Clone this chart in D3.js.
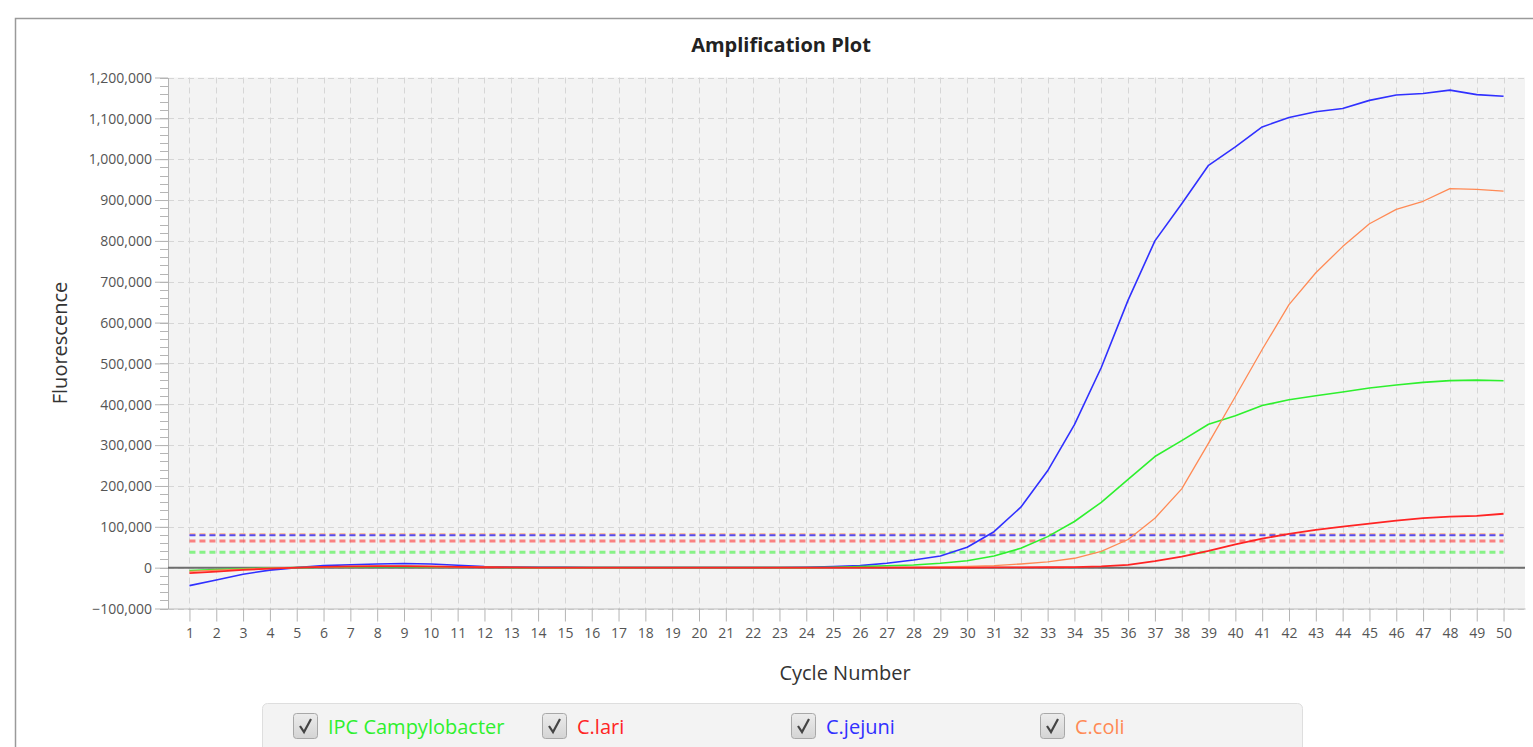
<!DOCTYPE html>
<html>
<head>
<meta charset="utf-8">
<script src="https://cdn.jsdelivr.net/npm/d3@7"></script>
<style>
  body { margin: 0; background: #fff; }
  svg { display: block; font-family: "Open Sans", "Noto Sans", sans-serif; }
</style>
</head>
<body>
<div id="chart"></div>
<script>
// cycle numbers on the x axis
const cycles = d3.range(1, 51);

const seriesNames = ["IPC Campylobacter", "C.lari", "C.jejuni", "C.coli"];
const seriesColors = ["#2ef02e", "#ff2424", "#3030ff", "#ff8a55"];

// fluorescence per cycle
const ipcValues = [-7000, -4500, -2500, -1000, 0, 1000, 2000, 2500, 2500, 2000,
  1500, 1000, 500, 0, 0, 0, 0, 0, 0, 0,
  0, 0, 0, 0, 1000, 2500, 4500, 6600, 10700, 17000,
  28700, 47500, 76000, 113000, 160000, 216000, 272000, 311000, 351000, 372000,
  397000, 411000, 421000, 430000, 440000, 447000, 453500, 458000, 459000, 457500];

const lariValues = [-13500, -9500, -5500, -2500, 0, 2000, 3000, 3500, 3500, 3000,
  2000, 1000, 500, 0, 0, 0, 0, 0, 0, 0,
  0, 0, 0, 0, 0, 0, 0, 0, 0, 0,
  500, 500, 1000, 1500, 3000, 7000, 16000, 27000, 41000, 57000,
  71000, 82500, 92500, 100500, 108000, 115000, 121500, 125000, 127000, 132000];

const jejuniValues = [-44000, -30000, -16000, -6000, 0, 5000, 7000, 9000, 10000, 9000,
  6000, 3000, 1500, 1000, 1000, 500, 500, 0, 0, 0,
  0, 0, 500, 1000, 2500, 5000, 10800, 18900, 28700, 50000,
  88000, 148000, 237000, 350000, 490000, 655000, 800000, 891000, 985000, 1030000,
  1079000, 1102000, 1116000, 1124000, 1144000, 1157000, 1161000, 1169000, 1158000, 1154000];

const coliValues = [-9000, -6000, -3500, -1500, 0, 1500, 2500, 3000, 3000, 2500,
  1500, 1000, 500, 0, 0, 0, 0, 0, 0, 0,
  0, 0, 0, 0, 0, 0, 500, 1000, 2000, 3000,
  5000, 9000, 14000, 23000, 40000, 69000, 121000, 193000, 305000, 419000,
  534000, 644000, 722000, 786000, 842000, 877000, 897000, 928000, 926000, 922000];

// threshold per series (dashed lines)
const thresholds = [37500, 65000, 79500, 81000];

const yTicks = d3.range(-100000, 1200001, 100000);
const yMinorTicks = d3.range(-100000, 1200001, 20000);

const W = 1533, H = 747;
const svg = d3.select("#chart").append("svg")
  .attr("width", W).attr("height", H);

// panel frame
svg.append("path")
  .attr("d", "M15.5," + H + "V18.5H" + W)
  .attr("fill", "none")
  .attr("stroke", "#9a9a9a")
  .attr("stroke-width", 1.5);

const x = d3.scaleLinear().domain([0.2, 50.8]).range([168, 1525]);
const y = d3.scaleLinear().domain([-100000, 1200000]).range([608.5, 77.5]);

// plot background
svg.append("rect")
  .attr("x", x.range()[0]).attr("y", y(1200000))
  .attr("width", x.range()[1] - x.range()[0])
  .attr("height", y(-100000) - y(1200000))
  .attr("fill", "#f3f3f3");

// grid
const grid = svg.append("g")
  .attr("stroke", "#d6d6d6")
  .attr("stroke-width", 1)
  .attr("stroke-dasharray", "6,4");
grid.selectAll(".vg").data(cycles).enter().append("line")
  .attr("x1", d => Math.round(x(d)) + 0.5).attr("x2", d => Math.round(x(d)) + 0.5)
  .attr("y1", y(1200000)).attr("y2", y(-100000));
grid.selectAll(".hg").data(yTicks).enter().append("line")
  .attr("x1", x.range()[0]).attr("x2", x.range()[1])
  .attr("y1", d => Math.round(y(d)) + 0.5).attr("y2", d => Math.round(y(d)) + 0.5);

// y axis
const yAxis = svg.append("g")
  .attr("transform", "translate(" + x.range()[0] + ",0)")
  .call(d3.axisLeft(y).tickValues(yTicks).tickSize(13).tickSizeOuter(0).tickPadding(3)
    .tickFormat(d3.format(",")));
yAxis.append("g").selectAll("line").data(yMinorTicks).enter().append("line")
  .attr("x1", -8).attr("x2", 0)
  .attr("y1", d => Math.round(y(d)) + 0.5).attr("y2", d => Math.round(y(d)) + 0.5)
  .attr("stroke", "#b5b5b5");

// x axis
const xAxis = svg.append("g")
  .attr("transform", "translate(0," + y(-100000) + ")")
  .call(d3.axisBottom(x).tickValues(cycles).tickSize(13).tickSizeOuter(0).tickPadding(7)
    .tickFormat(d3.format("d")));

[yAxis, xAxis].forEach(a => {
  a.select(".domain").attr("stroke", "#b5b5b5");
  a.selectAll(".tick line").attr("stroke", "#b5b5b5");
  a.selectAll(".tick text")
    .attr("fill", "#555")
    .style("font-family", "'Open Sans', sans-serif")
    .style("font-size", "14px");
});
yAxis.selectAll(".tick text").attr("dy", "0.34em");

// zero line
svg.append("line")
  .attr("x1", x.range()[0]).attr("x2", x.range()[1])
  .attr("y1", y(0)).attr("y2", y(0))
  .attr("stroke", "#6e6e6e").attr("stroke-width", 2);

// threshold lines
const thrStyle = [
  { w: 3, o: 0.55 },
  { w: 3, o: 0.55 },
  { w: 2, o: 0.8 },
  { w: 3, o: 0.5 }
];
[3, 1, 0, 2].forEach(i => {
  svg.append("line")
    .attr("x1", x(1)).attr("x2", x(50))
    .attr("y1", y(thresholds[i])).attr("y2", y(thresholds[i]))
    .attr("stroke", seriesColors[i])
    .attr("stroke-width", thrStyle[i].w)
    .attr("stroke-opacity", thrStyle[i].o)
    .attr("stroke-dasharray", "6,4");
});

// curves
const allValues = [ipcValues, lariValues, jejuniValues, coliValues];
const line = d3.line()
  .x((d, i) => x(cycles[i]))
  .y(d => y(d));
const widths = [1.6, 1.8, 1.6, 1.3];
[2, 0, 3, 1].forEach(i => {
  svg.append("path")
    .datum(allValues[i])
    .attr("fill", "none")
    .attr("stroke", seriesColors[i])
    .attr("stroke-width", widths[i])
    .attr("stroke-linejoin", "round")
    .attr("d", line);
});

// titles
svg.append("text")
  .attr("x", 781).attr("y", 52)
  .attr("text-anchor", "middle")
  .style("font-size", "20px").style("font-weight", "bold")
  .attr("fill", "#222")
  .text("Amplification Plot");

svg.append("text")
  .attr("x", 845).attr("y", 680)
  .attr("text-anchor", "middle")
  .style("font-size", "20px")
  .attr("fill", "#333")
  .text("Cycle Number");

svg.append("text")
  .attr("transform", "translate(67,343) rotate(-90)")
  .attr("text-anchor", "middle")
  .style("font-size", "20px")
  .attr("fill", "#333")
  .text("Fluorescence");

// legend with checkboxes
const legend = svg.append("g");
legend.append("rect")
  .attr("x", 262.5).attr("y", 703.5)
  .attr("width", 1040).attr("height", 60)
  .attr("rx", 5)
  .attr("fill", "#f3f3f3")
  .attr("stroke", "#dedede");

const grad = svg.append("defs").append("linearGradient")
  .attr("id", "cb").attr("x1", 0).attr("y1", 0).attr("x2", 0).attr("y2", 1);
grad.append("stop").attr("offset", "0%").attr("stop-color", "#ececec");
grad.append("stop").attr("offset", "100%").attr("stop-color", "#d4d4d4");

const item = legend.selectAll(".item").data(seriesNames).enter().append("g")
  .attr("transform", (d, i) => "translate(" + (293 + i * 249) + ",713)");
item.append("rect")
  .attr("x", 0.5).attr("y", 0.5)
  .attr("width", 24).attr("height", 25)
  .attr("rx", 3)
  .attr("fill", "url(#cb)")
  .attr("stroke", "#a8a8a8");
item.append("path")
  .attr("d", "M7,13 L11,19 L18,6")
  .attr("fill", "none")
  .attr("stroke", "#444")
  .attr("stroke-width", 2.2);
item.append("text")
  .attr("x", 35).attr("y", 21)
  .style("font-size", "20px")
  .attr("fill", (d, i) => seriesColors[i])
  .text(d => d);
</script>
</body>
</html>
